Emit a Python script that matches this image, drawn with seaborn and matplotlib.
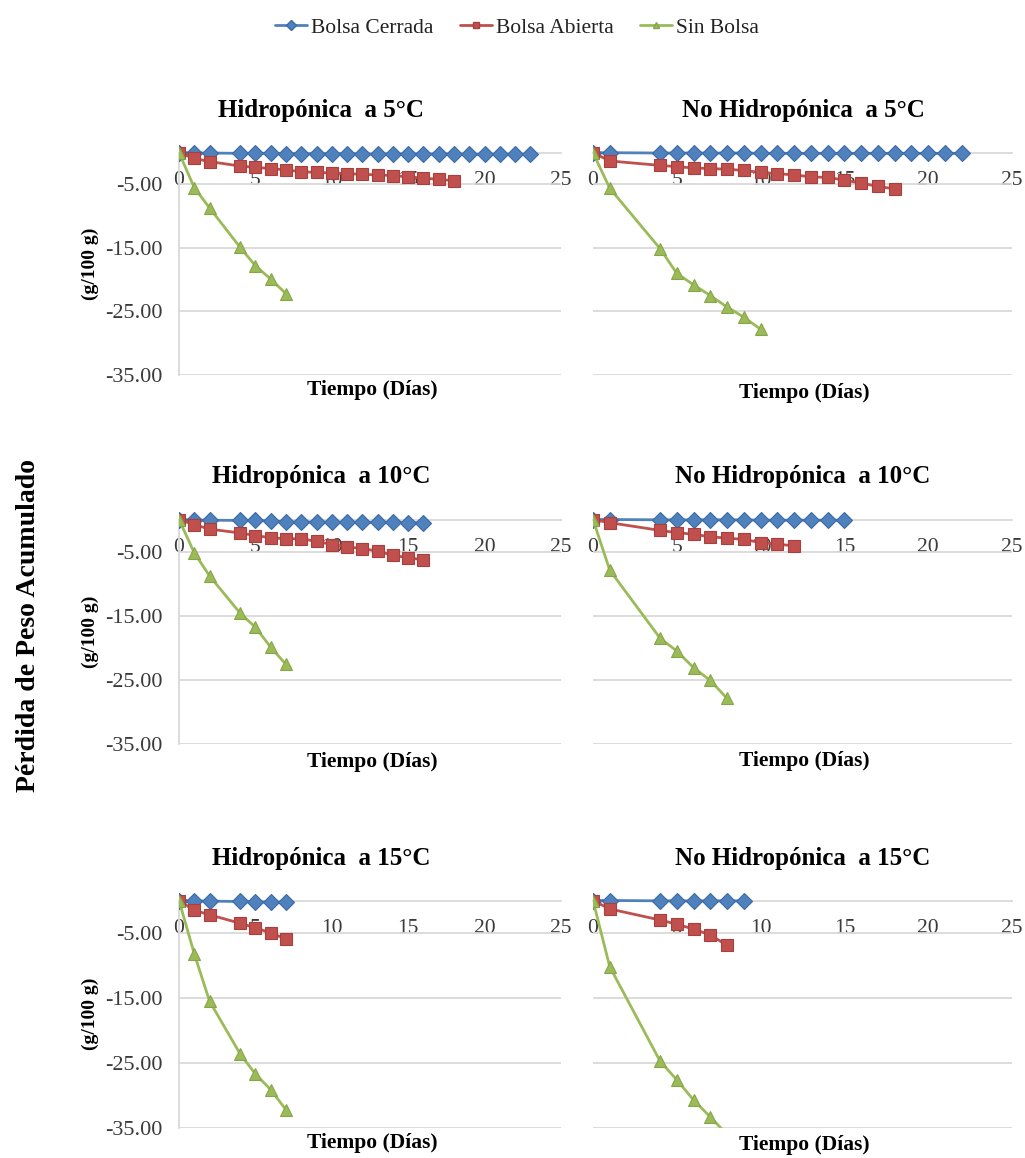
import numpy as np
import pandas as pd
import matplotlib
matplotlib.use("Agg")
import matplotlib.pyplot as plt
from matplotlib.lines import Line2D
import seaborn as sns

# ---------------- data ----------------
series_names = ["Bolsa Cerrada", "Bolsa Abierta", "Sin Bolsa"]
panel_titles = ["Hidropónica  a 5°C", "No Hidropónica  a 5°C",
                "Hidropónica  a 10°C", "No Hidropónica  a 10°C",
                "Hidropónica  a 15°C", "No Hidropónica  a 15°C"]
x_ticks = [0, 5, 10, 15, 20, 25]
y_ticks = [-35, -25, -15, -5]
y_tick_labels = ["-35.00", "-25.00", "-15.00", "-5.00"]
x_label = "Tiempo (Días)"
y_label = "(g/100 g)"
big_label = "Pérdida de Peso Acumulado"

# Hidropónica 5°C
h5_cerrada_dias = [0, 1, 2, 4, 5, 6, 7, 8, 9, 10, 11, 12, 13, 14, 15, 16, 17, 18, 19, 20, 21, 22, 23]
h5_cerrada = [0, -0.05, -0.05, -0.1, -0.1, -0.1, -0.15, -0.15, -0.15, -0.15, -0.15, -0.2,
              -0.2, -0.2, -0.2, -0.2, -0.2, -0.2, -0.25, -0.25, -0.25, -0.25, -0.25]
h5_abierta_dias = [0, 1, 2, 4, 5, 6, 7, 8, 9, 10, 11, 12, 13, 14, 15, 16, 17, 18]
h5_abierta = [0, -0.9, -1.4, -2.1, -2.3, -2.5, -2.7, -3.0, -3.1, -3.2, -3.3, -3.4,
              -3.5, -3.6, -3.8, -4.0, -4.2, -4.4]
h5_sin_dias = [0, 1, 2, 4, 5, 6, 7]
h5_sin = [0, -5.5, -8.7, -14.9, -17.8, -19.9, -22.2]

# No Hidropónica 5°C
nh5_cerrada_dias = [0, 1, 4, 5, 6, 7, 8, 9, 10, 11, 12, 13, 14, 15, 16, 17, 18, 19, 20, 21, 22]
nh5_cerrada = [0, 0, -0.05, -0.05, -0.05, -0.05, -0.05, -0.05, -0.1, -0.1, -0.1, -0.1,
               -0.1, -0.1, -0.1, -0.1, -0.1, -0.1, -0.1, -0.1, -0.1]
nh5_abierta_dias = [0, 1, 4, 5, 6, 7, 8, 9, 10, 11, 12, 13, 14, 15, 16, 17, 18]
nh5_abierta = [0, -1.3, -2.0, -2.2, -2.4, -2.5, -2.6, -2.8, -3.1, -3.3, -3.5, -3.8,
               -3.9, -4.3, -4.8, -5.3, -5.7]
nh5_sin_dias = [0, 1, 4, 5, 6, 7, 8, 9, 10]
nh5_sin = [0, -5.6, -15.1, -19.0, -20.8, -22.5, -24.3, -25.9, -27.8]

# Hidropónica 10°C
h10_cerrada_dias = [0, 1, 2, 4, 5, 6, 7, 8, 9, 10, 11, 12, 13, 14, 15, 16]
h10_cerrada = [0, -0.1, -0.1, -0.15, -0.15, -0.2, -0.4, -0.4, -0.4, -0.45, -0.45,
               -0.45, -0.45, -0.45, -0.5, -0.5]
h10_abierta_dias = [0, 1, 2, 4, 5, 6, 7, 8, 9, 10, 11, 12, 13, 14, 15, 16]
h10_abierta = [0, -0.8, -1.5, -2.1, -2.5, -2.85, -3.0, -3.0, -3.4, -3.9, -4.25,
               -4.55, -4.9, -5.6, -5.95, -6.3]
h10_sin_dias = [0, 1, 2, 4, 5, 6, 7]
h10_sin = [0, -5.2, -8.8, -14.6, -16.8, -19.9, -22.6]

# No Hidropónica 10°C
nh10_cerrada_dias = [0, 1, 4, 5, 6, 7, 8, 9, 10, 11, 12, 13, 14, 15]
nh10_cerrada = [0, 0, -0.05, -0.05, -0.05, -0.05, -0.05, -0.05, -0.1, -0.1, -0.1,
                -0.1, -0.1, -0.1]
nh10_abierta_dias = [0, 1, 4, 5, 6, 7, 8, 9, 10, 11, 12]
nh10_abierta = [0, -0.5, -1.7, -2.05, -2.3, -2.7, -2.9, -3.1, -3.6, -3.85, -4.1]
nh10_sin_dias = [0, 1, 4, 5, 6, 7, 8]
nh10_sin = [0, -7.9, -18.5, -20.5, -23.1, -25.1, -27.9]

# Hidropónica 15°C
h15_cerrada_dias = [0, 1, 2, 4, 5, 6, 7]
h15_cerrada = [0, -0.05, -0.1, -0.15, -0.2, -0.25, -0.3]
h15_abierta_dias = [0, 1, 2, 4, 5, 6, 7]
h15_abierta = [0, -1.5, -2.2, -3.5, -4.2, -5.0, -5.9]
h15_sin_dias = [0, 1, 2, 4, 5, 6, 7]
h15_sin = [0, -8.2, -15.5, -23.6, -26.7, -29.1, -32.2]

# No Hidropónica 15°C
nh15_cerrada_dias = [0, 1, 4, 5, 6, 7, 8, 9]
nh15_cerrada = [0, 0, -0.05, -0.05, -0.05, -0.05, -0.05, -0.05]
nh15_abierta_dias = [0, 1, 4, 5, 6, 7, 8]
nh15_abierta = [0, -1.3, -3.0, -3.65, -4.4, -5.3, -6.9]
nh15_sin_dias = [0, 1, 4, 5, 6, 7, 8]
nh15_sin = [0, -10.2, -24.7, -27.6, -30.7, -33.3, -36.0]

panels = [
    [(h5_cerrada_dias, h5_cerrada), (h5_abierta_dias, h5_abierta), (h5_sin_dias, h5_sin)],
    [(nh5_cerrada_dias, nh5_cerrada), (nh5_abierta_dias, nh5_abierta), (nh5_sin_dias, nh5_sin)],
    [(h10_cerrada_dias, h10_cerrada), (h10_abierta_dias, h10_abierta), (h10_sin_dias, h10_sin)],
    [(nh10_cerrada_dias, nh10_cerrada), (nh10_abierta_dias, nh10_abierta), (nh10_sin_dias, nh10_sin)],
    [(h15_cerrada_dias, h15_cerrada), (h15_abierta_dias, h15_abierta), (h15_sin_dias, h15_sin)],
    [(nh15_cerrada_dias, nh15_cerrada), (nh15_abierta_dias, nh15_abierta), (nh15_sin_dias, nh15_sin)],
]

# ---------------- style ----------------
colors = {"Bolsa Cerrada": "#4F81BD", "Bolsa Abierta": "#C0504D", "Sin Bolsa": "#9BBB59"}
edge_colors = {"Bolsa Cerrada": "#3C6AA5", "Bolsa Abierta": "#A93F3C", "Sin Bolsa": "#86A548"}
markers = {"Bolsa Cerrada": "D", "Bolsa Abierta": "s", "Sin Bolsa": "^"}
msizes = {"Bolsa Cerrada": 8, "Bolsa Abierta": 9, "Sin Bolsa": 9}

sns.set_theme(style="white")
plt.rcParams["font.family"] = ["Liberation Serif", "DejaVu Serif"]

W, H = 1025, 1158
fig = plt.figure(figsize=(W / 100, H / 100), dpi=100)

Y_TOP = 1.5
col_x = [(179, 561), (593, 1012)]
row_y = [(152.7, 375.0), (519.5, 744.0), (900.5, 1128.0)]
title_x = [321, 803]
title_y = [110, 477, 858]
xlabel_y = [[390, 393], [762, 761], [1143, 1145]]
grid_c = "#D9D9D9"
tick_c = "#3A3A3A"

for i, series in enumerate(panels):
    r, c = divmod(i, 2)
    x0, x1 = col_x[c]
    y0, y35 = row_y[r]
    scale = (y35 - y0) / 35.0
    top = y0 - Y_TOP * scale
    ax = fig.add_axes([x0 / W, 1 - y35 / H, (x1 - x0) / W, (y35 - top) / H])

    for name, (dias, vals) in zip(series_names, series):
        df = pd.DataFrame({"Días": dias, "Pérdida": vals})
        sns.lineplot(data=df, x="Días", y="Pérdida", ax=ax, color=colors[name],
                     marker=markers[name], markersize=msizes[name],
                     markeredgecolor=edge_colors[name], markeredgewidth=0.8,
                     linewidth=2.0, sort=False, estimator=None, zorder=3)

    ax.set_xlim(0, 25)
    ax.set_ylim(-35, Y_TOP)
    ax.set_xticks(x_ticks)
    ax.set_xticklabels([str(t) for t in x_ticks])
    ax.set_yticks(y_ticks)
    ax.set_yticklabels(y_tick_labels)
    ax.set_xlabel("")
    ax.set_ylabel("")
    ax.set_facecolor("none")
    ax.yaxis.grid(True, color=grid_c, linewidth=1.3)
    ax.xaxis.grid(False)
    ax.set_axisbelow(True)

    ax.spines["top"].set_visible(False)
    ax.spines["right"].set_visible(False)
    ax.spines["bottom"].set_position(("data", 0))
    ax.spines["bottom"].set_color(grid_c)
    ax.spines["bottom"].set_linewidth(1.3)
    ax.spines["bottom"].set_zorder(1)
    if c == 0:
        ax.spines["left"].set_bounds(-35, 0)
        ax.spines["left"].set_color(grid_c)
        ax.spines["left"].set_linewidth(1.3)
        ax.tick_params(axis="y", length=0, pad=12, labelsize=16, labelcolor=tick_c)
    else:
        ax.spines["left"].set_visible(False)
        ax.tick_params(axis="y", length=0, labelleft=False)
    ax.tick_params(axis="x", length=0, pad=13.5, labelsize=15.5, labelcolor=tick_c)

    fig.text(title_x[c] / W, 1 - title_y[r] / H, panel_titles[i], ha="center", va="center",
             fontsize=18, fontweight="bold", color="black")
    fig.text(((x0 + x1) / 2 + 2) / W, 1 - xlabel_y[r][c] / H, x_label, ha="center",
             va="center", fontsize=15.5, fontweight="bold", color="black")
    if c == 0:
        fig.text(90 / W, 1 - ((y0 + y35) / 2) / H, y_label, ha="center", va="center",
                 rotation=90, fontsize=14, fontweight="bold", color="black")

fig.text(29 / W, 1 - 625 / H, big_label, ha="center", va="center", rotation=90,
         fontsize=20, fontweight="bold", color="black")

handles = [Line2D([0], [0], color=colors[n], marker=markers[n], markersize=5,
                  markeredgecolor=edge_colors[n], linewidth=2.0) for n in series_names]
fig.legend(handles, series_names, loc="center", bbox_to_anchor=(517 / W, 1 - 28 / H),
           ncol=3, frameon=False, fontsize=15.5, handlelength=1.5, handletextpad=0.2,
           columnspacing=1.2, labelcolor="#222222")

fig.savefig("out.png", dpi=100)
